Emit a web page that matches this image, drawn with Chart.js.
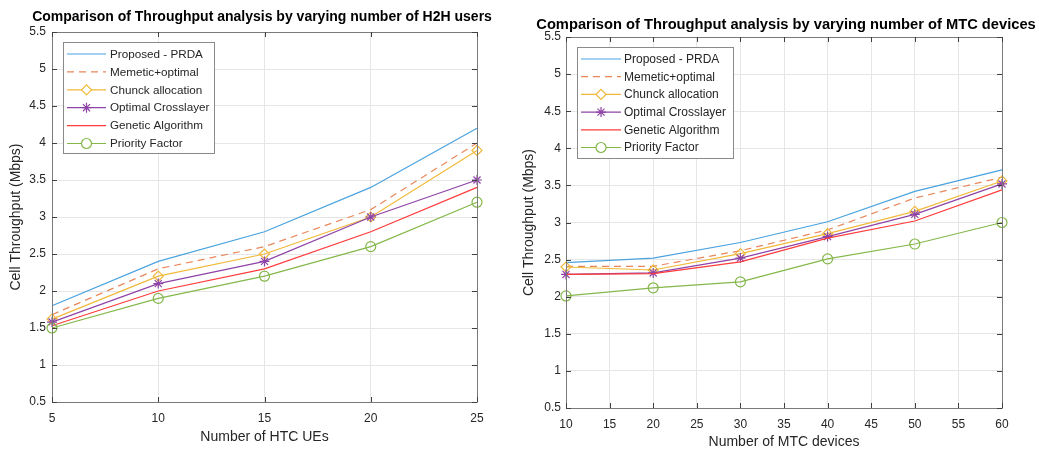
<!DOCTYPE html>
<html>
<head>
<meta charset="utf-8">
<script src="https://cdn.jsdelivr.net/npm/chart.js@4/dist/chart.umd.min.js"></script>
<style>
  html, body { margin: 0; padding: 0; background: #fff; }
  #wrapL { position: absolute; left: 0; top: 0; width: 520px; height: 454px; }
  #wrapR { position: absolute; left: 520px; top: 0; width: 519px; height: 454px; }
</style>
</head>
<body>
<div id="wrapL"><canvas id="left"></canvas></div>
<div id="wrapR"><canvas id="right"></canvas></div>
<script>
// ---- data ----
var seriesNames = ['Proposed - PRDA', 'Memetic+optimal', 'Chunck allocation', 'Optimal Crosslayer', 'Genetic Algorithm', 'Priority Factor'];

// left: H2H users
var htcUsers = [5, 10, 15, 20, 25];
var h2hProposed  = [1.8, 2.4, 2.8, 3.4, 4.2];
var h2hMemetic   = [1.68, 2.3, 2.6, 3.1, 4.0];
var h2hChunck    = [1.62, 2.2, 2.5, 3.0, 3.9];
var h2hCross     = [1.58, 2.1, 2.4, 3.0, 3.5];
var h2hGenetic   = [1.53, 2.0, 2.3, 2.8, 3.4];
var h2hPriority  = [1.5, 1.9, 2.2, 2.6, 3.2];

// right: MTC devices
var mtcDevices = [10, 20, 30, 40, 50, 60];
var mtcProposed  = [2.46, 2.52, 2.73, 3.01, 3.42, 3.71];
var mtcMemetic   = [2.41, 2.41, 2.62, 2.9, 3.33, 3.61];
var mtcChunck    = [2.4, 2.36, 2.58, 2.85, 3.15, 3.56];
var mtcCross     = [2.3, 2.32, 2.52, 2.81, 3.11, 3.52];
var mtcGenetic   = [2.3, 2.31, 2.47, 2.79, 3.02, 3.44];
var mtcPriority  = [2.01, 2.12, 2.2, 2.51, 2.71, 3.0];

var yTicks = [0.5, 1, 1.5, 2, 2.5, 3, 3.5, 4, 4.5, 5, 5.5];
var leftXTicks = [5, 10, 15, 20, 25];
var rightXTicks = [10, 15, 20, 25, 30, 35, 40, 45, 50, 55, 60];

// ---- styles (matlab-ish default colours) ----
var styles = [
    { color: '#4aa3df', dash: [], point: false },
    { color: '#e8875a', dash: [7, 5], point: false },
    { color: '#f0b93a', dash: [], point: 'rectRot' },
    { color: '#8e44a6', dash: [], point: 'star' },
    { color: '#ff3b3b', dash: [], point: false },
    { color: '#84b84a', dash: [], point: 'circle' }
];

var FONT = "'Liberation Sans', Arial, Helvetica, sans-serif";
var TXT = '#262626';

function makeDatasets(xs, lists) {
    return lists.map(function(vals, i) {
        var s = styles[i];
        return {
            label: seriesNames[i],
            data: xs.map(function(x, j) { return { x: x, y: vals[j] }; }),
            borderColor: s.color,
            backgroundColor: 'rgba(0,0,0,0)',
            borderWidth: 1.2,
            borderDash: s.dash,
            pointStyle: s.point || 'circle',
            pointRadius: s.point ? 5 : 0,
            pointBorderWidth: 1.2,
            pointBorderColor: s.color,
            pointBackgroundColor: 'rgba(0,0,0,0)',
            tension: 0,
            clip: false,
            order: 6 - i
        };
    });
}

// box, inward ticks, title, legend
var matlabLook = {
    id: 'matlabLook',
    afterDatasetsDraw: function(chart, args, o) {
        var ctx = chart.ctx, a = chart.chartArea;
        var xs = chart.scales.x, ys = chart.scales.y;
        ctx.save();
        ctx.strokeStyle = '#7a7a7a';
        ctx.lineWidth = 1;
        ctx.setLineDash([]);
        ctx.beginPath();
        ctx.rect(a.left + 0.5, a.top + 0.5, a.right - a.left, a.bottom - a.top);
        ctx.stroke();
        ctx.strokeStyle = '#404040';
        ctx.beginPath();
        ys.ticks.forEach(function(t) {
            var p = Math.round(ys.getPixelForValue(t.value)) + 0.5;
            ctx.moveTo(a.left, p); ctx.lineTo(a.left + 5, p);
            ctx.moveTo(a.right, p); ctx.lineTo(a.right - 5, p);
        });
        xs.ticks.forEach(function(t) {
            var p = Math.round(xs.getPixelForValue(t.value)) + 0.5;
            ctx.moveTo(p, a.bottom); ctx.lineTo(p, a.bottom - 5);
            ctx.moveTo(p, a.top); ctx.lineTo(p, a.top + 5);
        });
        ctx.stroke();

        // title
        ctx.fillStyle = '#000';
        ctx.font = 'bold ' + o.titleSize + 'px ' + FONT;
        ctx.textAlign = 'center';
        ctx.textBaseline = 'middle';
        ctx.fillText(o.title, o.titleX, o.titleY);

        // legend box
        var L = o.legend;
        ctx.fillStyle = '#fff';
        ctx.fillRect(L.x, L.y, L.w, L.h);
        ctx.strokeStyle = '#8a8a8a';
        ctx.strokeRect(L.x + 0.5, L.y + 0.5, L.w, L.h);
        ctx.font = L.font + 'px ' + FONT;
        ctx.textAlign = 'left';
        chart.data.datasets.forEach(function(ds, i) {
            var y = L.row0 + i * L.rowH;
            ctx.strokeStyle = ds.borderColor;
            ctx.lineWidth = 1.2;
            ctx.setLineDash(ds.borderDash);
            ctx.beginPath();
            ctx.moveTo(L.l0, y); ctx.lineTo(L.l1, y);
            ctx.stroke();
            ctx.setLineDash([]);
            if (ds.pointRadius > 0) {
                ctx.fillStyle = '#fff';
                Chart.helpers.drawPoint(ctx, { pointStyle: ds.pointStyle, radius: 5, rotation: 0, borderWidth: 1.2 }, (L.l0 + L.l1) / 2, y);
            }
            ctx.fillStyle = TXT;
            ctx.fillText(ds.label, L.tx, y + 0.5);
        });
        ctx.restore();
    }
};

function buildChart(id, xs, lists, xTicks, xTitle, cfg) {
    return new Chart(document.getElementById(id), {
        type: 'line',
        data: { datasets: makeDatasets(xs, lists) },
        plugins: [matlabLook],
        options: {
            responsive: true,
            maintainAspectRatio: false,
            animation: false,
            layout: { padding: { left: 0, right: cfg.padRight, top: cfg.padTop, bottom: 0 } },
            plugins: {
                legend: { display: false },
                tooltip: { enabled: false },
                matlabLook: { title: cfg.title, titleX: cfg.titleX, titleY: cfg.titleY, titleSize: cfg.titleSize, legend: cfg.legend }
            },
            scales: {
                x: {
                    type: 'linear',
                    min: xTicks[0],
                    max: xTicks[xTicks.length - 1],
                    afterBuildTicks: function(s) { s.ticks = xTicks.map(function(v) { return { value: v }; }); },
                    afterFit: function(s) { s.height = cfg.xH; },
                    grid: { color: '#e6e6e6', drawTicks: false },
                    border: { display: false },
                    ticks: { color: TXT, font: { family: FONT, size: 12 }, padding: cfg.xTickPad, maxRotation: 0, autoSkip: false,
                             callback: function(v) { return String(v); } },
                    title: { display: true, text: xTitle, color: TXT, font: { family: FONT, size: 14 }, padding: { top: 0, bottom: cfg.xTitlePad } }
                },
                y: {
                    min: 0.5,
                    max: 5.5,
                    afterBuildTicks: function(s) { s.ticks = yTicks.map(function(v) { return { value: v }; }); },
                    afterFit: function(s) { s.width = cfg.yW; },
                    grid: { color: '#e6e6e6', drawTicks: false },
                    border: { display: false },
                    ticks: { color: TXT, font: { family: FONT, size: 12 }, padding: cfg.yTickPad, autoSkip: false,
                             callback: function(v) { return String(v); } },
                    title: { display: true, text: 'Cell Throughput (Mbps)', color: TXT, font: { family: FONT, size: 14 }, padding: { top: cfg.yTitlePad, bottom: 0 } }
                }
            }
        }
    });
}

buildChart('left', htcUsers,
    [h2hProposed, h2hMemetic, h2hChunck, h2hCross, h2hGenetic, h2hPriority],
    leftXTicks, 'Number of HTC UEs', {
        padRight: 43, padTop: 32, xH: 52, yW: 52, xTickPad: 9, xTitlePad: 8, yTickPad: 6, yTitlePad: 8,
        title: 'Comparison of Throughput analysis by varying number of H2H users', titleX: 262, titleY: 17, titleSize: 14,
        legend: { x: 63, y: 42, w: 151, h: 111, row0: 54, rowH: 17.9, l0: 67, l1: 106, tx: 110, font: 11.7 }
    });

buildChart('right', mtcDevices,
    [mtcProposed, mtcMemetic, mtcChunck, mtcCross, mtcGenetic, mtcPriority],
    rightXTicks, 'Number of MTC devices', {
        padRight: 37, padTop: 37, xH: 46, yW: 46, xTickPad: 9, xTitlePad: 3, yTickPad: 5, yTitlePad: 1,
        title: 'Comparison of Throughput analysis by varying number of MTC devices', titleX: 266, titleY: 25, titleSize: 14.7,
        legend: { x: 57, y: 47, w: 156, h: 111, row0: 59, rowH: 17.7, l0: 61, l1: 101, tx: 104, font: 12 }
    });
</script>
</body>
</html>
